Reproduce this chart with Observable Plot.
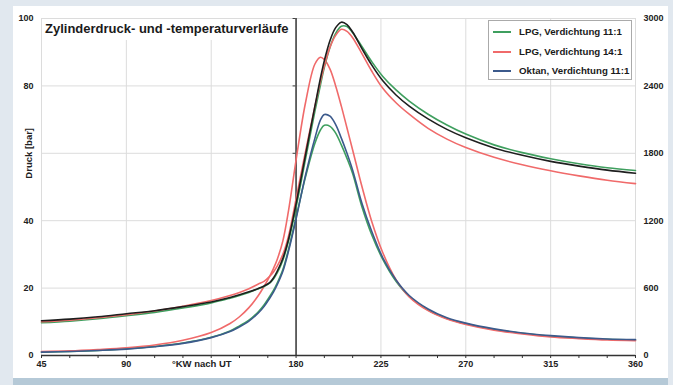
<!DOCTYPE html>
<html><head><meta charset="utf-8">
<script src="https://cdn.jsdelivr.net/npm/d3@7"></script>
<script src="https://cdn.jsdelivr.net/npm/@observablehq/plot@0.6"></script>
<style>
html,body{margin:0;padding:0;background:#e1e8ef;}
#wrap{position:relative;width:673px;height:385px;overflow:hidden;font-family:"Liberation Sans",Arial,sans-serif;}
#panel{position:absolute;left:13px;top:6px;width:655px;height:372px;background:#fff;}
#band{position:absolute;left:13px;top:378px;width:655px;height:7px;background:#b5c9d7;}
#chart{position:absolute;left:0;top:0;}
#title{position:absolute;left:42px;top:19px;width:253px;height:21px;background:#fff;box-sizing:border-box;padding:3px 0 0 3px;font-weight:bold;font-size:13px;line-height:13px;color:#1a1a1a;white-space:nowrap;}
#legend{position:absolute;left:488px;top:20px;width:144px;height:60px;box-sizing:border-box;border:1px solid #aaa;background:#fff;}
.row{position:absolute;left:0;height:12px;width:140px;}
.sw{position:absolute;left:4px;top:5px;width:18px;height:2px;}
.lt{position:absolute;left:30px;top:0;font-weight:bold;font-size:9.7px;line-height:12px;color:#1a1a1a;white-space:nowrap;}
</style></head>
<body>
<div id="wrap">
  <div id="panel"></div>
  <div id="band"></div>
  <div id="chart"></div>
  <div id="title"></div>
  <div id="legend"></div>
</div>
<script>
const titleText = "Zylinderdruck- und -temperaturverläufe";
const xLabel = "°KW nach UT";
const yLabel = "Druck [bar]";
const seriesNames = ["LPG, Verdichtung 11:1", "LPG, Verdichtung 14:1", "Oktan, Verdichtung 11:1"];
const seriesColors = ["#3f9f5f", "#f06a6a", "#3c5a8c"];
const oktanTempColor = "#1e1e1e";

const xGrid = [45, 90, 135, 180, 225, 270, 315, 360];
const xTickLabels = [45, 90, 180, 225, 270, 315, 360];
const xMinorTicks = [45, 60, 75, 90, 105, 120, 135, 150, 165, 180, 195, 210, 225, 240, 255, 270, 285, 300, 315, 330, 345, 360];
const yTicksLeft = [0, 20, 40, 80, 100];
const yGrid = [0, 20, 40, 60, 80, 100];
const yTicksRight = [0, 600, 1200, 1800, 2400, 3000];

// crank angle, °KW nach UT
const angles = [45,60,75,90,105,120,135,145,150,155,160,163,166,168,170,173,176,180,185,190,193,195,198,201,204,207,210,215,220,226,233,240,250,260,270,285,300,315,330,345,360];

// pressure [bar]
const pLPG11 = [1.0,1.2,1.5,2.0,2.7,3.7,5.4,7.3,8.8,10.5,13.0,15.0,17.5,19.3,21.5,25.5,31.5,41,53,63,67,68.3,68,66,62.5,58.5,54,44,36,28.5,22,17.5,13.5,11,9.4,7.7,6.6,5.7,5.2,4.8,4.6];
const pLPG14 = [1.2,1.4,1.8,2.3,3.1,4.5,6.8,9.5,11.5,14.2,17.8,20.5,23.5,25.8,28.5,34,43,58,75,86.5,88.5,87.8,85,80,74,67.5,61,50,40,30.5,22.5,17.4,13.3,10.8,9.2,7.5,6.4,5.5,5.0,4.6,4.4];
const pOktan = [1.0,1.2,1.5,1.9,2.6,3.6,5.3,7.1,8.5,10.2,12.6,14.5,17,18.8,21,25,31,40.5,53.5,64.5,70,71.5,71,68.5,64.5,60,55,45,37,29,22.4,17.8,13.8,11.2,9.6,7.9,6.7,5.9,5.3,4.9,4.7];

// temperature [K]
const tLPG11 = [291,306,327,354,384,423,468,510,534,561,594,615,645,681,735,849,1020,1320,1749,2175,2415,2565,2745,2868,2931,2928,2874,2748,2619,2484,2364,2265,2148,2052,1971,1875,1806,1752,1707,1671,1647];
const tLPG14 = [300,315,336,363,396,438,489,534,561,594,636,660,705,744,795,900,1065,1395,1815,2220,2445,2580,2745,2850,2904,2886,2829,2685,2535,2379,2250,2148,2022,1926,1851,1764,1698,1644,1599,1560,1530];
const tOktan = [309,324,345,372,399,435,477,516,540,567,597,618,648,690,750,864,1035,1350,1785,2220,2475,2625,2805,2919,2967,2946,2880,2730,2589,2445,2319,2220,2106,2013,1938,1848,1782,1728,1686,1650,1623];

const K_PER_BAR = 30; // right axis 3000 K corresponds to left axis 100 bar

const pressure = [pLPG11, pLPG14, pOktan];
const temps = [tLPG11, tLPG14, tOktan];
const tempColors = [seriesColors[0], seriesColors[1], oktanTempColor];

const lineMarks = [];
pressure.forEach((vals, s) => {
  lineMarks.push(Plot.line(angles, {x: d => d, y: (d, i) => vals[i], stroke: seriesColors[s], strokeWidth: 1.6, curve: "catmull-rom"}));
});
temps.forEach((vals, s) => {
  lineMarks.push(Plot.line(angles, {x: d => d, y: (d, i) => vals[i] / K_PER_BAR, stroke: tempColors[s], strokeWidth: 1.6, curve: "catmull-rom"}));
});

const chart = Plot.plot({
  width: 673,
  height: 385,
  marginLeft: 41,
  marginRight: 38,
  marginTop: 18,
  marginBottom: 30,
  style: {background: "transparent", fontFamily: "'Liberation Sans', Arial, sans-serif", fontSize: "9px", fontWeight: "bold", color: "#222", overflow: "visible"},
  x: {domain: [45, 360]},
  y: {domain: [0, 100]},
  marks: [
    Plot.ruleX(xGrid, {stroke: "#dcdcdc", strokeWidth: 1}),
    Plot.ruleY(yGrid, {stroke: "#dcdcdc", strokeWidth: 1}),
    Plot.ruleX([180], {stroke: "#444", strokeWidth: 1.6}),
    Plot.ruleY(yGrid.slice(1), {x1: 180, x2: 180, insetLeft: -3, stroke: "#444", strokeWidth: 1}),
    ...lineMarks,
    Plot.ruleY([0], {stroke: "#333", strokeWidth: 1.3}),
    Plot.axisX({ticks: xMinorTicks, tickSize: 3, tickFormat: () => "", stroke: "#333"}),
    Plot.axisX({ticks: xTickLabels, tickSize: 0, tickPadding: 5, label: null, fill: "#222"}),
    Plot.axisY({ticks: yTicksLeft, tickSize: 0, tickPadding: 8, label: null, fill: "#222"}),
    Plot.axisY({anchor: "right", ticks: yTicksRight.map(k => k / K_PER_BAR), tickFormat: d => String(Math.round(d * K_PER_BAR)), tickSize: 0, tickPadding: 8, label: null, fill: "#222"}),
    Plot.text([xLabel], {x: 130, y: 0, dy: 8, text: d => d, fontSize: 9.5, fill: "#222"}),
    Plot.text([yLabel], {x: 45, y: 60, dx: -13, rotate: -90, text: d => d, fontSize: 9.5, fill: "#222"})
  ]
});
document.getElementById("chart").appendChild(chart);
document.getElementById("title").textContent = titleText;

const legend = document.getElementById("legend");
const rowTops = [5, 24.5, 44];
seriesNames.forEach((name, i) => {
  const row = document.createElement("div");
  row.className = "row";
  row.style.top = rowTops[i] + "px";
  const sw = document.createElement("div");
  sw.className = "sw";
  sw.style.background = seriesColors[i];
  const lt = document.createElement("div");
  lt.className = "lt";
  lt.textContent = name;
  row.appendChild(sw);
  row.appendChild(lt);
  legend.appendChild(row);
});
</script>
</body></html>
